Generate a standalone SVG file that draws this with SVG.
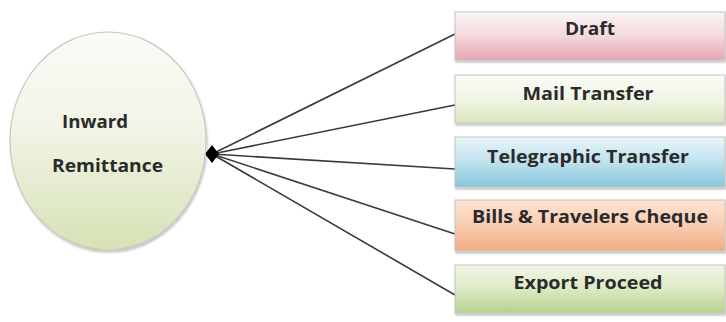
<svg xmlns="http://www.w3.org/2000/svg" width="726" height="322" viewBox="0 0 726 322">
<defs>
<linearGradient id="gE" x1="0" y1="0" x2="0" y2="1"><stop offset="0" stop-color="#fbfbf7"/><stop offset="0.45" stop-color="#f1f4e6"/><stop offset="1" stop-color="#d6e2b4"/></linearGradient>
<linearGradient id="gDraft" x1="0" y1="0" x2="0" y2="1"><stop offset="0" stop-color="#fbf5f5"/><stop offset="0.5" stop-color="#f4d8dc"/><stop offset="1" stop-color="#e6a6b0"/></linearGradient>
<linearGradient id="gMail" x1="0" y1="0" x2="0" y2="1"><stop offset="0" stop-color="#fbfcf6"/><stop offset="0.5" stop-color="#f1f5e4"/><stop offset="1" stop-color="#d9e6c0"/></linearGradient>
<linearGradient id="gTele" x1="0" y1="0" x2="0" y2="1"><stop offset="0" stop-color="#e9f5f9"/><stop offset="0.5" stop-color="#bfe2ee"/><stop offset="1" stop-color="#86c6da"/></linearGradient>
<linearGradient id="gBills" x1="0" y1="0" x2="0" y2="1"><stop offset="0" stop-color="#fde4d4"/><stop offset="0.5" stop-color="#f9cdb0"/><stop offset="1" stop-color="#f2ab84"/></linearGradient>
<linearGradient id="gExp" x1="0" y1="0" x2="0" y2="1"><stop offset="0" stop-color="#f2f6e8"/><stop offset="0.5" stop-color="#dce9c4"/><stop offset="1" stop-color="#b6d28e"/></linearGradient>
<filter id="sh" x="-10%" y="-10%" width="120%" height="130%"><feDropShadow dx="1" dy="2" stdDeviation="1.2" flood-color="#000" flood-opacity="0.25"/></filter>
</defs>
<style>
.box{stroke:#c4c4c0;stroke-width:1;filter:url(#sh)}
.t{font-family:"Open Sans","Liberation Sans",sans-serif;font-weight:bold;font-size:17px;fill:#2b2b2b;text-anchor:middle}
.et{font-family:"Open Sans","Liberation Sans",sans-serif;font-weight:bold;font-size:17px;fill:#2b2b2b}
.c{stroke:#3a3a3a;stroke-width:1.6;fill:none}
</style>
<rect width="726" height="322" fill="#ffffff"/>
<g id="connectors">
<line class="c" x1="212" y1="154" x2="455" y2="34"/>
<line class="c" x1="212" y1="154" x2="455" y2="105"/>
<line class="c" x1="212" y1="154" x2="455" y2="169"/>
<line class="c" x1="212" y1="154" x2="455" y2="234"/>
<line class="c" x1="212" y1="154" x2="455" y2="295"/>
<polygon points="212,145 219,154 212,163 205,154" fill="#000"/>
</g>
<g id="inward-remittance">
<ellipse cx="108" cy="141" rx="98" ry="109" fill="url(#gE)" stroke="#c8c8c0" stroke-width="1.2" filter="url(#sh)"/>
<text class="et" x="62" y="128" textLength="66" lengthAdjust="spacingAndGlyphs">Inward</text>
<text class="et" x="52" y="172" textLength="111" lengthAdjust="spacingAndGlyphs">Remittance</text>
</g>
<g id="draft">
<rect class="box" x="455" y="12" width="270" height="48" fill="url(#gDraft)"/>
<text class="t" x="590" y="35" textLength="50" lengthAdjust="spacingAndGlyphs">Draft</text>
</g>
<g id="mail-transfer">
<rect class="box" x="455" y="75" width="270" height="48" fill="url(#gMail)"/>
<text class="t" x="588" y="100" textLength="131" lengthAdjust="spacingAndGlyphs">Mail Transfer</text>
</g>
<g id="telegraphic-transfer">
<rect class="box" x="455" y="137" width="270" height="50" fill="url(#gTele)"/>
<text class="t" x="588" y="163" textLength="202" lengthAdjust="spacingAndGlyphs">Telegraphic Transfer</text>
</g>
<g id="bills-travelers-cheque">
<rect class="box" x="455" y="200" width="270" height="51" fill="url(#gBills)"/>
<text class="t" x="590" y="223" textLength="236" lengthAdjust="spacingAndGlyphs">Bills &amp; Travelers Cheque</text>
</g>
<g id="export-proceed">
<rect class="box" x="455" y="265" width="270" height="48" fill="url(#gExp)"/>
<text class="t" x="588" y="289" textLength="149" lengthAdjust="spacingAndGlyphs">Export Proceed</text>
</g>
</svg>
